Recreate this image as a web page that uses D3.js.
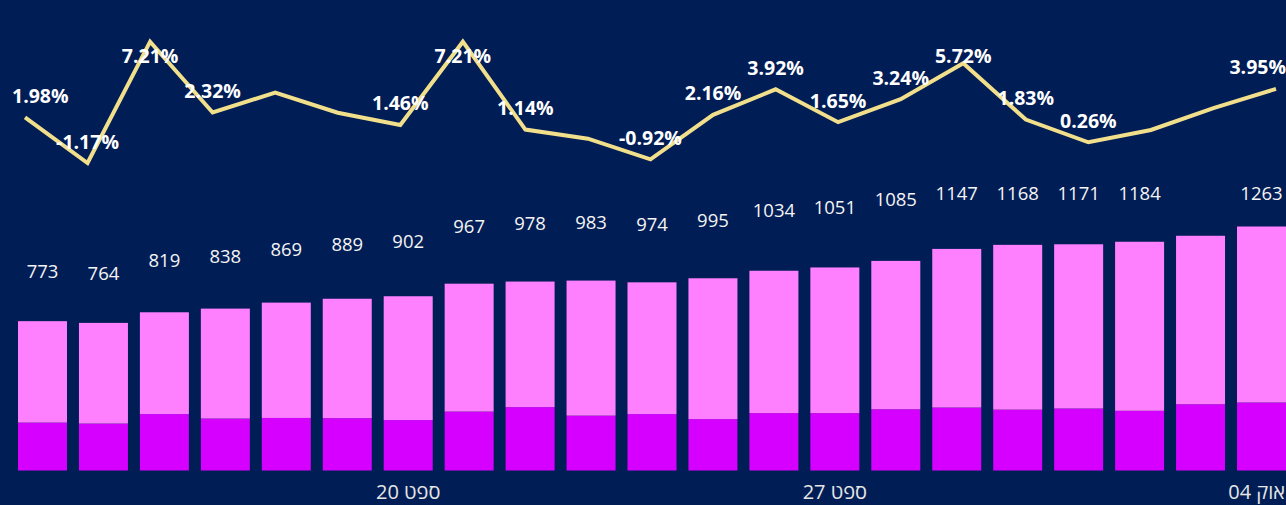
<!DOCTYPE html>
<html><head><meta charset="utf-8">
<script src="https://cdn.jsdelivr.net/npm/d3@7"></script>
<style>
html,body{margin:0;padding:0;background:#011D55;overflow:hidden}
svg{display:block}
text{font-family:"Segoe UI","Open Sans","DejaVu Sans",sans-serif}
</style></head>
<body>
<svg id="chart" width="1286" height="505"></svg>
<script>
// ---- data ----
const categories = ["09-14","09-15","09-16","09-17","09-18","09-19","09-20","09-21","09-22","09-23","09-24","09-25","09-26","09-27","09-28","09-29","09-30","10-01","10-02","10-03","10-04"];
const bottomSeries = [248,243,292,269,272,271,261,305,328,284,292,266,297,297,317,326,315,321,309,343,352];
const topSeries    = [525,521,527,569,597,618,641,662,650,699,682,729,737,754,768,821,853,850,875,872,911];
const pctChange    = [1.98,-1.17,7.21,2.32,3.70,2.30,1.46,7.21,1.14,0.51,-0.92,2.16,3.92,1.65,3.24,5.72,1.83,0.26,1.11,2.62,3.95];
const pctLabelShown = [1,1,1,1,0,0,1,1,1,0,1,1,1,1,1,1,1,1,0,0,1];
const totalLabelShown = [1,1,1,1,1,1,1,1,1,1,1,1,1,1,1,1,1,1,1,0,1];
const tickCategories = ["09-20","09-27","10-04"];
const tickLabels = ["ספט 20","ספט 27","אוק 04"];

const W = 1286, H = 505;
const svg = d3.select("#chart");
svg.append("rect").attr("width", W).attr("height", H).attr("fill", "#011D55");

const rows = categories.map((c, i) => ({cat: c, bottom: bottomSeries[i], top: topSeries[i]}));
const stack = d3.stack().keys(["bottom", "top"])(rows);

const x = d3.scaleBand().domain(categories).range([18, 1286]).paddingInner(0.196).paddingOuter(0);
const y = d3.scaleLinear().domain([0, 1263]).range([470.5, 226.5]);
const yLabel = d3.scaleLinear().domain([0, 1263]).range([450.5, 156.7]);
const xLine = d3.scalePoint().domain(categories).range([25, 1276]);
const yLine = d3.scaleLinear().domain([-1.17, 7.21]).range([163, 41.7]);
const colors = {bottom: "#D500FF", top: "#FF80FF"};

// bars
svg.append("g").selectAll("g").data(stack).join("g")
  .attr("fill", s => colors[s.key])
  .selectAll("rect").data(s => s).join("rect")
  .attr("x", d => x(d.data.cat))
  .attr("width", x.bandwidth())
  .attr("y", d => y(d[1]))
  .attr("height", d => y(d[0]) - y(d[1]));

// total labels
const totals = stack[1];
svg.append("g").selectAll("text").data(totals.filter((d, i) => totalLabelShown[i])).join("text")
  .attr("x", d => x(d.data.cat) + x.bandwidth() / 2)
  .attr("y", d => Math.max(yLabel(d[1]), 192.7))
  .attr("text-anchor", "middle")
  .attr("dominant-baseline", "central")
  .attr("fill", "#F4F4F4")
  .attr("font-size", "18.5px")
  .text(d => d[1]);

// axis
const axis = d3.axisBottom(x).tickValues(tickCategories)
  .tickFormat(c => tickLabels[tickCategories.indexOf(c)])
  .tickSize(0).tickPadding(14);
const ag = svg.append("g").attr("transform", "translate(0,470.5)").call(axis);
ag.select(".domain").remove();
ag.selectAll("text").attr("fill", "#E6E6E6").attr("font-size", "20px")
  .attr("font-family", '"Segoe UI","Open Sans","DejaVu Sans",sans-serif')
  .style("direction", "rtl").style("unicode-bidi", "plaintext")
  .each(function() {
    // keep tick text inside the picture
    const bb = this.getBBox();
    const tr = this.parentNode.getAttribute("transform");
    const tx = +tr.match(/translate\(([-\d.]+)/)[1];
    const right = tx + bb.x + bb.width;
    if (right > W - 1) d3.select(this).attr("x", (W - 1) - right);
  });

// line
const line = d3.line().x((d, i) => xLine(categories[i])).y(d => yLine(d));
svg.append("path").datum(pctChange)
  .attr("d", line)
  .attr("fill", "none")
  .attr("stroke", "#F1DF8C")
  .attr("stroke-width", 4)
  .attr("stroke-linejoin", "miter");

// pct labels
const pg = svg.append("g");
pctChange.forEach((v, i) => {
  if (!pctLabelShown[i]) return;
  const t = pg.append("text")
    .attr("y", Math.max(yLine(v) - 22, 55))
    .attr("text-anchor", "middle")
    .attr("dominant-baseline", "central")
    .attr("fill", "#FFFFFF")
    .attr("font-size", "19.5px")
    .attr("font-weight", "bold")
    .text(v.toFixed(2) + "%");
  const w = t.node().getComputedTextLength();
  let cx = xLine(categories[i]);
  cx = Math.max(cx, 12 + w / 2);
  cx = Math.min(cx, 1286 - w / 2);
  t.attr("x", cx);
});
</script>
</body></html>
